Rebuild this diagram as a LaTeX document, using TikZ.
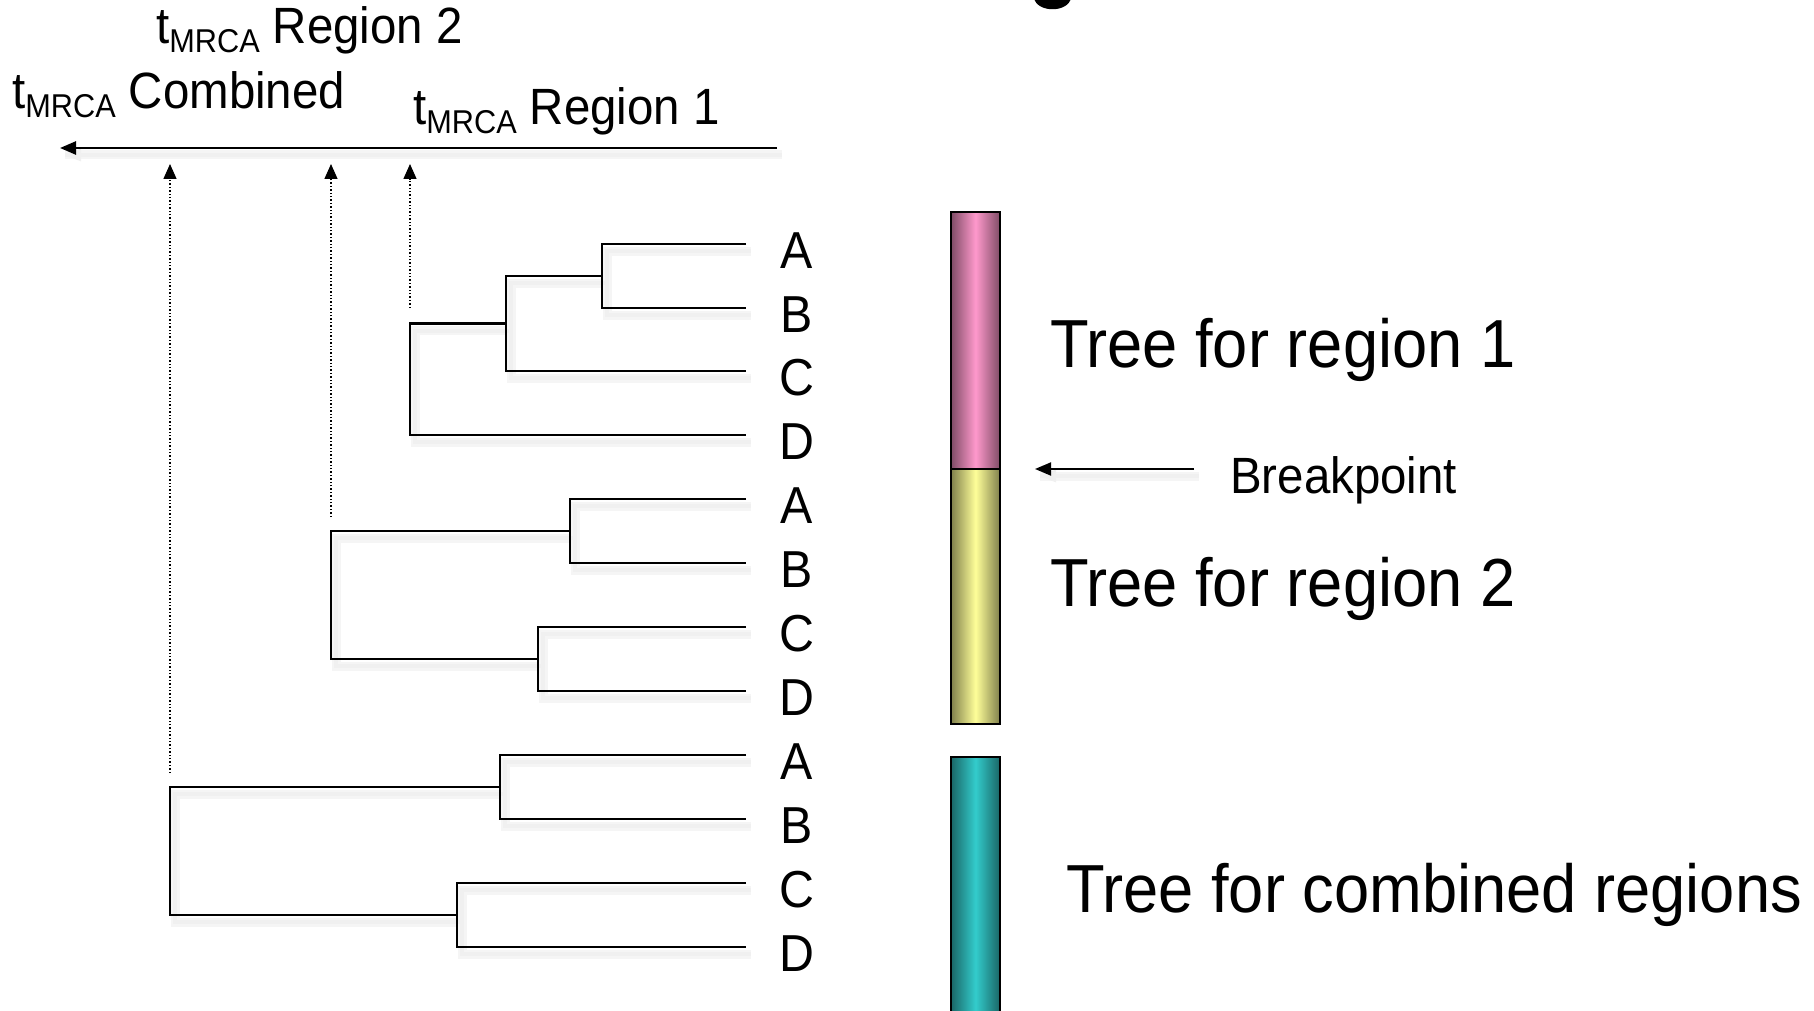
\documentclass[tikz,border=0pt]{standalone}
\usepackage{fontspec}
\setmainfont{Liberation Sans}[FakeStretch=0.93]
\usetikzlibrary{arrows.meta}

\definecolor{pinkbar}{HTML}{FF99CC}
\definecolor{pinkedge}{HTML}{7F4C66}
\definecolor{yellowbar}{HTML}{FFFF99}
\definecolor{yellowedge}{HTML}{80804C}
\definecolor{tealbar}{HTML}{33CCCC}
\definecolor{tealedge}{HTML}{1A6666}

% t with an MRCA subscript
\newcommand{\tmrca}{t\raisebox{-9pt}{\fontsize{33}{33}\selectfont MRCA}}

% every branch of the three trees, drawn with the style given
\newcommand{\allbranches}[1]{%
  \draw[#1] (t1A) -| (n1ab) |- (t1B);
  \draw[#1] (n1ab) -| (n1abc) |- (t1C);
  \draw[#1] (n1abc) -| (r1) |- (t1D);
  \draw[#1] (t2A) -| (n2ab) |- (t2B);
  \draw[#1] (t2C) -| (n2cd) |- (t2D);
  \draw[#1] (n2ab) -| (r2) |- (n2cd);
  \draw[#1] (t3A) -| (n3ab) |- (t3B);
  \draw[#1] (t3C) -| (n3cd) |- (t3D);
  \draw[#1] (n3ab) -| (r3) |- (n3cd);
  \draw[#1] (axR) -- (axL);
  \draw[#1] (bpfrom) -- (bptip);
}

\begin{document}
\begin{tikzpicture}[x=1pt,y=-1pt,
  shadowwide/.style={draw=black!4, line width=9pt, transform canvas={shift={(5pt,-7pt)}}},
  shadownarrow/.style={draw=black!6, line width=4pt, transform canvas={shift={(5pt,-7pt)}}},
  branch/.style={line width=2.5pt},
  guide/.style={line width=1.4pt, dotted, -{Triangle[length=15pt,width=13pt]}},
  leaflab/.style={anchor=base, font=\fontsize{52}{52}\selectfont, inner sep=0pt},
  toplab/.style={anchor=base west, font=\fontsize{51}{51}\selectfont, inner sep=0pt},
  biglab/.style={anchor=base west, font=\fontsize{68}{68}\selectfont, inner sep=0pt},
  segbar/.style={draw=black, line width=2.5pt}]

\useasboundingbox (0,0) rectangle (1814,1011);

% time axis end points
\coordinate (axR) at (777,148);
\coordinate (axL) at (60,148);

% tree for region 1
\coordinate (t1A) at (746,244);
\coordinate (t1B) at (746,308);
\coordinate (t1C) at (746,371);
\coordinate (t1D) at (746,435);
\coordinate (n1ab) at (602,276);
\coordinate (n1abc) at (506,323.5);
\coordinate (r1) at (410,379);

% tree for region 2
\coordinate (t2A) at (746,499);
\coordinate (t2B) at (746,563);
\coordinate (t2C) at (746,627);
\coordinate (t2D) at (746,691);
\coordinate (n2ab) at (570,531);
\coordinate (n2cd) at (538,659);
\coordinate (r2) at (331,595);

% tree for combined regions
\coordinate (t3A) at (746,755);
\coordinate (t3B) at (746,819);
\coordinate (t3C) at (746,883);
\coordinate (t3D) at (746,947);
\coordinate (n3ab) at (500,787);
\coordinate (n3cd) at (457,915);
\coordinate (r3) at (170,851);

% breakpoint arrow
\coordinate (bpfrom) at (1194,469);
\coordinate (bptip) at (1035,469);

% soft drop shadows first, then the lines themselves
\allbranches{shadowwide}
\allbranches{shadownarrow}
\fill[black!6, transform canvas={shift={(5pt,-7pt)}}] (60,148) -- (76,141.5) -- (76,154.5) -- cycle;
\fill[black!6, transform canvas={shift={(5pt,-7pt)}}] (1035,469) -- (1051,462.5) -- (1051,475.5) -- cycle;

\draw[branch] (t1A) -| (n1ab) |- (t1B);
\draw[branch] (n1ab) -| (n1abc) |- (t1C);
\draw[branch] (n1abc) -| (r1) |- (t1D);
\draw[branch] (t2A) -| (n2ab) |- (t2B);
\draw[branch] (t2C) -| (n2cd) |- (t2D);
\draw[branch] (n2ab) -| (r2) |- (n2cd);
\draw[branch] (t3A) -| (n3ab) |- (t3B);
\draw[branch] (t3C) -| (n3cd) |- (t3D);
\draw[branch] (n3ab) -| (r3) |- (n3cd);
\draw[line width=2.5pt, -{Triangle[length=16pt,width=13pt]}] (axR) -- (axL);
\draw[line width=2pt, -{Triangle[length=16pt,width=13pt]}] (bpfrom) -- (bptip);

% fragment of the title above the frame
\fill (1034,-2) .. controls (1037,13) and (1068,13) .. (1071,-2) -- cycle;

% axis labels
\node[toplab] (lab2) at (156,44) {\tmrca\ Region 2};
\node[toplab] (labc) at (12,109) {\tmrca\ Combined};
\node[toplab] (lab1) at (413,125) {\tmrca\ Region 1};

% leaf labels
\node[leaflab] (l1A) at (797,268) {A};
\node[leaflab] (l1B) at (797,332) {B};
\node[leaflab] (l1C) at (797,395) {C};
\node[leaflab] (l1D) at (797,459) {D};
\node[leaflab] (l2A) at (797,523) {A};
\node[leaflab] (l2B) at (797,587) {B};
\node[leaflab] (l2C) at (797,651) {C};
\node[leaflab] (l2D) at (797,715) {D};
\node[leaflab] (l3A) at (797,779) {A};
\node[leaflab] (l3B) at (797,843) {B};
\node[leaflab] (l3C) at (797,907) {C};
\node[leaflab] (l3D) at (797,971) {D};

% dotted guides from each root up to the time axis
\coordinate (g1top) at (410,164);
\coordinate (g1bot) at (410,308);
\coordinate (g2top) at (331,164);
\coordinate (g2bot) at (331,517);
\coordinate (g3top) at (170,164);
\coordinate (g3bot) at (170,773);
\draw[guide] (g1bot) -- (g1top);
\draw[guide] (g2bot) -- (g2top);
\draw[guide] (g3bot) -- (g3top);

% sequence segments
\shade[left color=pinkedge, right color=pinkedge, middle color=pinkbar]
  (951,212) rectangle (1000,469);
\shade[left color=yellowedge, right color=yellowedge, middle color=yellowbar]
  (951,469) rectangle (1000,724);
\shade[left color=tealedge, right color=tealedge, middle color=tealbar]
  (951,757) rectangle (1000,1014);
\draw[segbar] (951,212) rectangle (1000,469);
\draw[segbar] (951,469) rectangle (1000,724);
\draw[segbar] (951,757) rectangle (1000,1014);

% breakpoint label
\node[anchor=base west, font=\fontsize{51}{51}\selectfont, inner sep=0pt] (bp) at (1230,493) {Breakpoint};

% segment captions
\node[biglab] (cap1) at (1050,367) {Tree for region 1};
\node[biglab] (cap2) at (1050,606) {Tree for region 2};
\node[biglab] (cap3) at (1066,912) {Tree for combined regions};

\end{tikzpicture}
\end{document}
